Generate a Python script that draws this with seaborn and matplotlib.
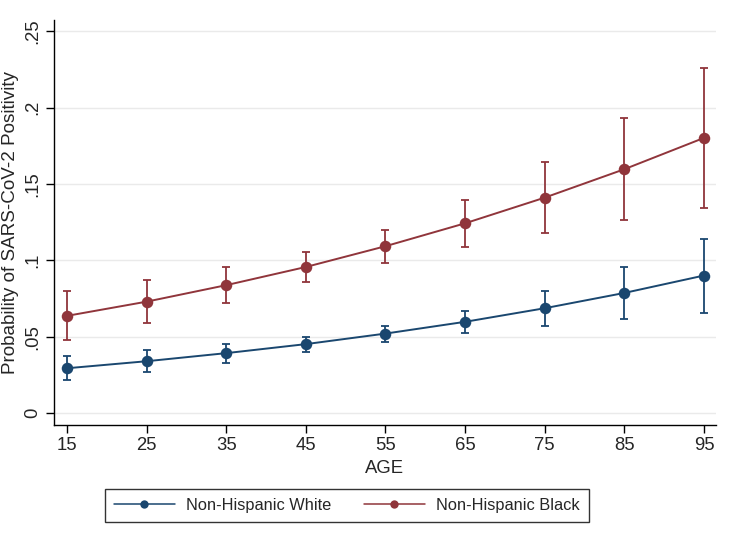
import numpy as np
import pandas as pd
import matplotlib
matplotlib.use("Agg")
import matplotlib.pyplot as plt
import seaborn as sns
from matplotlib.lines import Line2D

ages = [15, 25, 35, 45, 55, 65, 75, 85, 95]
white = [0.0294, 0.0340, 0.0393, 0.0452, 0.0521, 0.0598, 0.0687, 0.0787, 0.0901]
white_lo = [0.0216, 0.0268, 0.0331, 0.0401, 0.0469, 0.0528, 0.0573, 0.0617, 0.0658]
white_hi = [0.0375, 0.0412, 0.0456, 0.0501, 0.0571, 0.0668, 0.0798, 0.0956, 0.1141]
black = [0.0637, 0.0730, 0.0838, 0.0957, 0.1093, 0.1243, 0.1411, 0.1597, 0.1802]
black_lo = [0.0478, 0.0591, 0.0720, 0.0857, 0.0984, 0.1088, 0.1180, 0.1263, 0.1344]
black_hi = [0.0798, 0.0872, 0.0957, 0.1058, 0.1202, 0.1396, 0.1643, 0.1933, 0.2262]
groups = ["Non-Hispanic White", "Non-Hispanic Black"]
colors = ["#1a476f", "#90353b"]
yticks = [0, 0.05, 0.10, 0.15, 0.20, 0.25]
ytick_labels = ["0", ".05", ".1", ".15", ".2", ".25"]

df = pd.DataFrame({
    "AGE": ages * 2,
    "prob": white + black,
    "group": [groups[0]] * len(ages) + [groups[1]] * len(ages),
})

sns.set_theme(style="white")
plt.rcParams["font.family"] = ["Liberation Sans", "DejaVu Sans"]

fig = plt.figure(figsize=(7.35, 5.49), dpi=100)
ax = fig.add_axes([0.0735, 0.226, 0.9005, 0.7376])

for c, lo, hi, mid in [(colors[0], white_lo, white_hi, white),
                       (colors[1], black_lo, black_hi, black)]:
    mid = np.array(mid)
    ax.errorbar(ages, mid, yerr=[mid - np.array(lo), np.array(hi) - mid],
                fmt="none", ecolor=c, elinewidth=1.3, capsize=3.2, capthick=1.3, zorder=2)

sns.lineplot(data=df, x="AGE", y="prob", hue="group", hue_order=groups,
             palette=colors, marker="o", markersize=8.3, markeredgewidth=0,
             linewidth=1.4, ax=ax, legend=False, zorder=3)

ax.set_xlim(13.37, 96.5)
ax.set_ylim(-0.0077, 0.2574)
ax.set_xticks(ages)
ax.set_xticklabels([str(a) for a in ages], fontsize=13.3)
ax.set_yticks(yticks)
ax.set_yticklabels(ytick_labels, fontsize=13.3, rotation=90, va="center")
ax.yaxis.grid(True, color="#eaeaea", linewidth=1)
ax.xaxis.grid(False)
for s in ["top", "right"]:
    ax.spines[s].set_visible(False)
for s in ["left", "bottom"]:
    ax.spines[s].set_color("black")
    ax.spines[s].set_linewidth(1)
ax.tick_params(axis="both", direction="out", length=6, width=1, color="black",
               left=True, bottom=True, pad=3)
ax.set_xlabel("AGE", fontsize=13.3, labelpad=4)
ax.set_ylabel("Probability of SARS-CoV-2 Positivity", fontsize=13.6, labelpad=4)

handles = [Line2D([0], [0], color=c, marker="o", markersize=6, linewidth=1.1,
                  markeredgewidth=0) for c in colors]
leg = fig.legend(handles, groups, loc="center", bbox_to_anchor=(0.472, 0.08),
                 ncol=2, fontsize=11.8, frameon=True, fancybox=False,
                 handlelength=3.7, columnspacing=2.0, borderpad=0.55,
                 handletextpad=0.7, borderaxespad=0)
leg.get_frame().set_edgecolor("black")
leg.get_frame().set_linewidth(1)

fig.savefig("out.png", dpi=100, facecolor="white")
